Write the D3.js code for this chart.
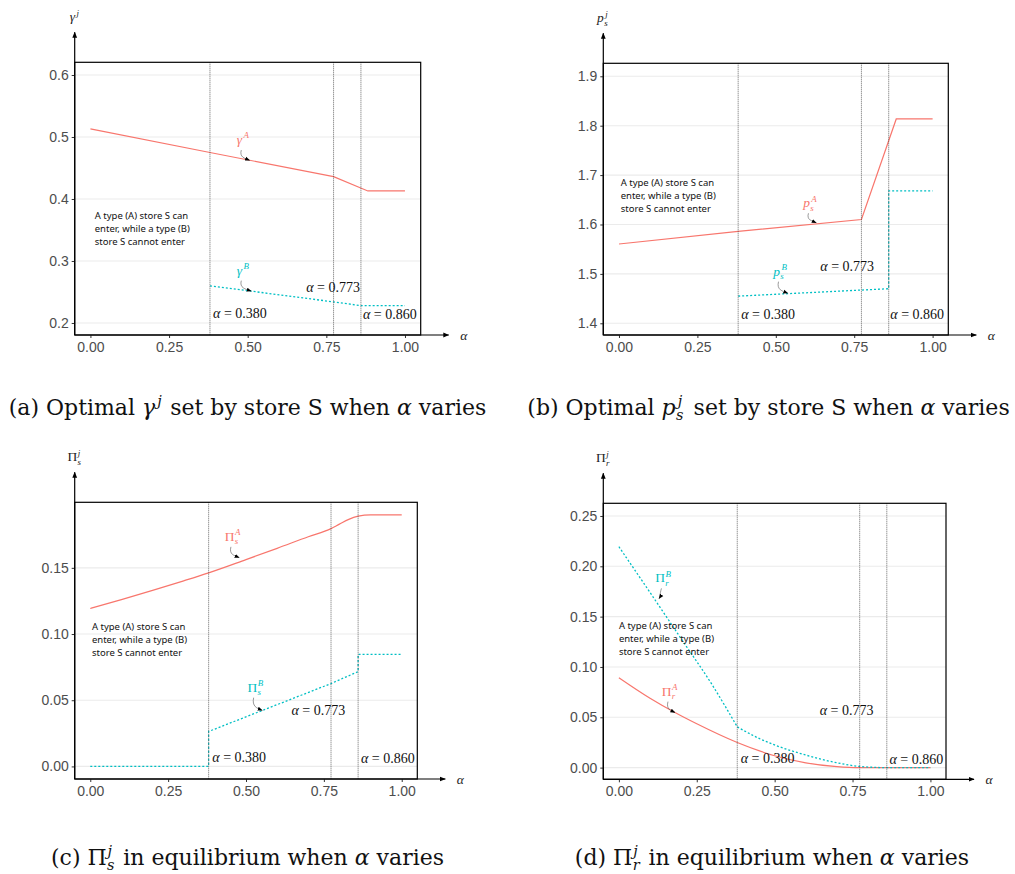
<!DOCTYPE html>
<html>
<head>
<meta charset="utf-8">
<script src="https://cdn.jsdelivr.net/npm/d3@7"></script>
<style>
  body { margin: 0; background: #fff; }
  svg text { white-space: pre; }
  .tick text { font-family: "Liberation Sans", Arial, sans-serif; font-size: 14px; fill: #4d4d4d; }
  .tick line { stroke: #333; }
</style>
</head>
<body>
<div id="chart"></div>
<script>
// alpha thresholds (vertical reference lines)
var cutoffs = [0.380, 0.773, 0.860];
var xTicks = [0, 0.25, 0.5, 0.75, 1];

// (a) gamma^j
var alphaGammaA = [0, 0.38, 0.773, 0.882, 1];
var gammaA = [0.513, 0.475, 0.436, 0.413, 0.413];
var alphaGammaB = [0.38, 0.773, 0.86, 1];
var gammaB = [0.260, 0.234, 0.228, 0.228];
var gammaTicks = [0.2, 0.3, 0.4, 0.5, 0.6];

// (b) p_s^j
var alphaPsA = [0, 0.38, 0.773, 0.884, 1];
var psA = [1.5605, 1.586, 1.610, 1.8136, 1.8136];
var alphaPsB = [0.38, 0.86, 0.86, 1];
var psB = [1.455, 1.470, 1.668, 1.668];
var psTicks = [1.4, 1.5, 1.6, 1.7, 1.8, 1.9];

// (c) Pi_s^j
var alphaPisA = [0, 0.1, 0.2, 0.3, 0.38, 0.5, 0.6, 0.7, 0.773, 0.8, 0.83, 0.86, 0.88, 0.9, 1];
var pisA = [0.1193, 0.1260, 0.1330, 0.1402, 0.1462, 0.1562, 0.1647, 0.1735, 0.1796, 0.1830, 0.1866, 0.1890, 0.1898, 0.1900, 0.1900];
var alphaPisB = [0, 0.38, 0.38, 0.773, 0.86, 0.86, 1];
var pisB = [0, 0, 0.0264, 0.0626, 0.0716, 0.0846, 0.0846];
var pisTicks = [0, 0.05, 0.1, 0.15];

// (d) Pi_r^j
var alphaPirA = [0, 0.1, 0.18, 0.25, 0.38, 0.5, 0.6, 0.7, 0.773, 0.85, 1];
var pirA = [0.0894, 0.0690, 0.0548, 0.0436, 0.0250, 0.0118, 0.0048, 0.0010, 0, 0, 0];
var alphaPirB1 = [0, 0.1, 0.2, 0.3, 0.38];
var pirB1 = [0.2195, 0.174, 0.128, 0.082, 0.0405];
var alphaPirB2 = [0.38, 0.45, 0.5, 0.6, 0.7, 0.773, 0.86, 1];
var pirB2 = [0.0405, 0.029, 0.0225, 0.0125, 0.0048, 0.0012, 0, 0];
var pirTicks = [0, 0.05, 0.1, 0.15, 0.2, 0.25];

var noteLines = ["A type (A) store S can", "enter, while a type (B)", "store S cannot enter"];

var red = "#F8766D", cyan = "#00BFC4";
var serif = "'Liberation Serif', 'DejaVu Serif', serif";

var svg = d3.select("#chart").append("svg")
  .attr("width", 1015)
  .attr("height", 874)
  .style("font-family", serif);

var defs = svg.append("defs");
defs.append("marker")
  .attr("id", "axisHead")
  .attr("viewBox", "0 0 10 10")
  .attr("refX", 9).attr("refY", 5)
  .attr("markerWidth", 5).attr("markerHeight", 5)
  .attr("orient", "auto")
  .append("path").attr("d", "M0,1L10,5L0,9Z").attr("fill", "#000");
defs.append("marker")
  .attr("id", "noteHead")
  .attr("viewBox", "0 0 10 10")
  .attr("refX", 9).attr("refY", 5)
  .attr("markerWidth", 5).attr("markerHeight", 5)
  .attr("markerUnits", "userSpaceOnUse")
  .attr("orient", "auto")
  .append("path").attr("d", "M0,1L10,5L0,9Z").attr("fill", "#000");

// lay out a run of text pieces with optional stacked super/subscripts
function mathText(sel, segs, x, y, size, color, anchor, family) {
  var g = sel.append("g").attr("fill", color);
  if (family) g.style("font-family", family);
  var cx = 0;
  segs.forEach(function(s) {
    var t = g.append("text").attr("x", cx).attr("y", 0)
      .style("font-size", size + "px")
      .style("font-style", s.it ? "italic" : "normal")
      .text(s.t);
    cx += t.node().getComputedTextLength();
    var w = 0;
    var off = s.it ? size * 0.1 : size * 0.04;
    if (s.sup) {
      var u = g.append("text").attr("x", cx + off).attr("y", -size * 0.42)
        .style("font-size", (size * 0.66) + "px").style("font-style", "italic").text(s.sup);
      w = u.node().getComputedTextLength();
    }
    if (s.sub) {
      var b = g.append("text").attr("x", cx + size * 0.02).attr("y", size * 0.24)
        .style("font-size", (size * 0.66) + "px").style("font-style", "italic").text(s.sub);
      w = Math.max(w, b.node().getComputedTextLength());
    }
    if (w) cx += w + off + size * 0.06;
  });
  var shift = anchor === "middle" ? -cx / 2 : anchor === "end" ? -cx : 0;
  g.attr("transform", "translate(" + (x + shift) + "," + y + ")");
  return cx;
}

var panels = [
  {
    left: 74.7, right: 420.7, top: 62.3, bottom: 335,
    yDomain: [0.1806, 0.6205], yTicks: gammaTicks, yFormat: d3.format(".1f"),
    series: [
      {a: alphaGammaA, v: gammaA, color: red},
      {a: alphaGammaB, v: gammaB, color: cyan, dash: true}
    ],
    yLabel: [{t: "γ", it: true, sup: "j"}],
    labA: {seg: [{t: "γ", it: true, sup: "A"}], a: 0.486, v: 0.495, pa: 0.506, pv: 0.4625},
    labB: {seg: [{t: "γ", it: true, sup: "B"}], a: 0.486, v: 0.2844, pa: 0.511, pv: 0.2515},
    note: [0.0137, 0.373],
    cutLabels: [[0.39, 0.2145], [0.686, 0.257], [0.8666, 0.2129]]
  },
  {
    left: 603.3, right: 948.3, top: 63.3, bottom: 335,
    yDomain: [1.3763, 1.9263], yTicks: psTicks, yFormat: d3.format(".1f"),
    series: [
      {a: alphaPsA, v: psA, color: red},
      {a: alphaPsB, v: psB, color: cyan, dash: true}
    ],
    yLabel: [{t: "p", it: true, sup: "j", sub: "s"}],
    labA: {seg: [{t: "p", it: true, sup: "A", sub: "s"}], a: 0.6105, v: 1.643, pa: 0.629, pv: 1.6035},
    labB: {seg: [{t: "p", it: true, sup: "B", sub: "s"}], a: 0.515, v: 1.5045, pa: 0.538, pv: 1.461},
    note: [0.0054, 1.6846],
    cutLabels: [[0.3898, 1.4188], [0.642, 1.5146], [0.865, 1.4168]]
  },
  {
    left: 74.7, right: 417.3, top: 502.3, bottom: 779,
    yDomain: [-0.0095, 0.1995], yTicks: pisTicks, yFormat: d3.format(".2f"),
    series: [
      {a: alphaPisA, v: pisA, color: red, smooth: true},
      {a: alphaPisB, v: pisB, color: cyan, dash: true}
    ],
    yLabel: [{t: "Π", sup: "j", sub: "s"}],
    labA: {seg: [{t: "Π", sup: "A", sub: "s"}], a: 0.458, v: 0.1734, pa: 0.478, pv: 0.1577},
    labB: {seg: [{t: "Π", sup: "B", sub: "s"}], a: 0.531, v: 0.0595, pa: 0.552, pv: 0.0424},
    note: [0.0054, 0.106],
    cutLabels: [[0.392, 0.0068], [0.646, 0.0424], [0.869, 0.006]]
  },
  {
    left: 603.3, right: 946, top: 503.3, bottom: 779.3,
    yDomain: [-0.0116, 0.2626], yTicks: pirTicks, yFormat: d3.format(".2f"),
    series: [
      {a: alphaPirA, v: pirA, color: red, smooth: true},
      {a: alphaPirB1, v: pirB1, color: cyan, dash: true, smooth: true},
      {a: alphaPirB2, v: pirB2, color: cyan, dash: true, smooth: true}
    ],
    yLabel: [{t: "Π", sup: "j", sub: "r"}],
    labA: {seg: [{t: "Π", sup: "A", sub: "r"}], a: 0.164, v: 0.0755, pa: 0.180, pv: 0.0548},
    labB: {seg: [{t: "Π", sup: "B", sub: "r"}], a: 0.143, v: 0.188, pa: 0.129, pv: 0.168},
    note: [0.0, 0.141],
    cutLabels: [[0.391, 0.0093], [0.6446, 0.0563], [0.8686, 0.0083]]
  }
];

panels.forEach(function(p) {
  var x = d3.scaleLinear().domain([-0.05, 1.05]).range([p.left, p.right]);
  var y = d3.scaleLinear().domain(p.yDomain).range([p.bottom, p.top]);
  var g = svg.append("g");

  // horizontal grid
  g.selectAll(".grid")
    .data(p.yTicks)
    .enter()
    .append("line")
    .attr("x1", p.left).attr("x2", p.right)
    .attr("y1", function(d) { return y(d); })
    .attr("y2", function(d) { return y(d); })
    .attr("stroke", "#ebebeb")
    .attr("stroke-width", 1.1);

  // series
  p.series.forEach(function(s) {
    var line = d3.line()
      .curve(s.smooth ? d3.curveMonotoneX : d3.curveLinear)
      .x(function(d) { return x(d[0]); })
      .y(function(d) { return y(d[1]); });
    g.append("path")
      .datum(d3.zip(s.a, s.v))
      .attr("d", line)
      .attr("fill", "none")
      .attr("stroke", s.color)
      .attr("stroke-width", s.dash ? 1.3 : 1.2)
      .attr("stroke-dasharray", s.dash ? "2,2" : null);
  });

  // alpha thresholds
  g.selectAll(".cut")
    .data(cutoffs)
    .enter()
    .append("line")
    .attr("x1", function(d) { return x(d); })
    .attr("x2", function(d) { return x(d); })
    .attr("y1", p.top).attr("y2", p.bottom)
    .attr("stroke", "#444")
    .attr("stroke-width", 0.8)
    .attr("stroke-dasharray", "1,1");

  // panel border
  g.append("rect")
    .attr("x", p.left).attr("y", p.top)
    .attr("width", p.right - p.left).attr("height", p.bottom - p.top)
    .attr("fill", "none")
    .attr("stroke", "#000")
    .attr("stroke-width", 1.2);

  // axes
  g.append("g")
    .attr("transform", "translate(0," + p.bottom + ")")
    .call(d3.axisBottom(x).tickValues(xTicks).tickFormat(d3.format(".2f")).tickSize(3).tickPadding(4))
    .call(function(a) { a.select(".domain").remove(); });
  g.append("g")
    .attr("transform", "translate(" + p.left + ",0)")
    .call(d3.axisLeft(y).tickValues(p.yTicks).tickFormat(p.yFormat).tickSize(3).tickPadding(3))
    .call(function(a) { a.select(".domain").remove(); });

  // axis arrows
  g.append("line")
    .attr("x1", p.left).attr("x2", p.left)
    .attr("y1", p.bottom).attr("y2", p.top - 30)
    .attr("stroke", "#000").attr("stroke-width", 1.2)
    .attr("marker-end", "url(#axisHead)");
  g.append("line")
    .attr("x1", p.left).attr("x2", p.right + 28)
    .attr("y1", p.bottom).attr("y2", p.bottom)
    .attr("stroke", "#000").attr("stroke-width", 1.2)
    .attr("marker-end", "url(#axisHead)");

  // axis titles
  mathText(g, p.yLabel, p.left, p.top - 41, 13.5, "#222", "middle");
  mathText(g, [{t: "α", it: true}], p.right + 43, p.bottom + 5, 13.5, "#222", "middle");

  // note text
  g.selectAll(".note")
    .data(noteLines)
    .enter()
    .append("text")
    .attr("x", x(p.note[0]))
    .attr("y", function(d, i) { return y(p.note[1]) + 3.5 + i * 13; })
    .style("font-family", "'Noto Sans', 'Open Sans', sans-serif")
    .style("font-size", "9.5px")
    .attr("fill", "#111")
    .text(function(d) { return d; });

  // threshold labels
  p.cutLabels.forEach(function(c, i) {
    mathText(g, [{t: "α", it: true}, {t: " = " + d3.format(".3f")(cutoffs[i])}],
      x(c[0]), y(c[1]) + 4.5, 14, "#111", "start");
  });

  // series labels with curved pointers
  [[p.labA, red], [p.labB, cyan]].forEach(function(l) {
    var d = l[0];
    var lx = x(d.a), ly = y(d.v);
    mathText(g, d.seg, lx, ly + 4, 13.5, l[1], "middle");
    var sx = lx - 2, sy = ly + 10;
    var ex = x(d.pa), ey = y(d.pv);
    g.append("path")
      .attr("d", "M" + sx + "," + sy + "C" + (sx - 2) + "," + (sy + (ey - sy) * 0.7) + " " +
        (sx + (ex - sx) * 0.4) + "," + (ey - 2) + " " + ex + "," + ey)
      .attr("fill", "none")
      .attr("stroke", "#555")
      .attr("stroke-width", 0.6)
      .attr("marker-end", "url(#noteHead)");
  });
});

// captions
var captions = [
  {x: 247.5, y: 415, seg: [{t: "(a) Optimal "}, {t: "γ", it: true, sup: "j"}, {t: " set by store S when "}, {t: "α", it: true}, {t: " varies"}]},
  {x: 768.5, y: 415, seg: [{t: "(b) Optimal "}, {t: "p", it: true, sup: "j", sub: "s"}, {t: " set by store S when "}, {t: "α", it: true}, {t: " varies"}]},
  {x: 247.5, y: 865, seg: [{t: "(c) "}, {t: "Π", sup: "j", sub: "s"}, {t: " in equilibrium when "}, {t: "α", it: true}, {t: " varies"}]},
  {x: 772, y: 865, seg: [{t: "(d) "}, {t: "Π", sup: "j", sub: "r"}, {t: " in equilibrium when "}, {t: "α", it: true}, {t: " varies"}]}
];
captions.forEach(function(c) {
  mathText(svg, c.seg, c.x, c.y, 22, "#111", "middle", "'DejaVu Serif', serif");
});
</script>
</body>
</html>
